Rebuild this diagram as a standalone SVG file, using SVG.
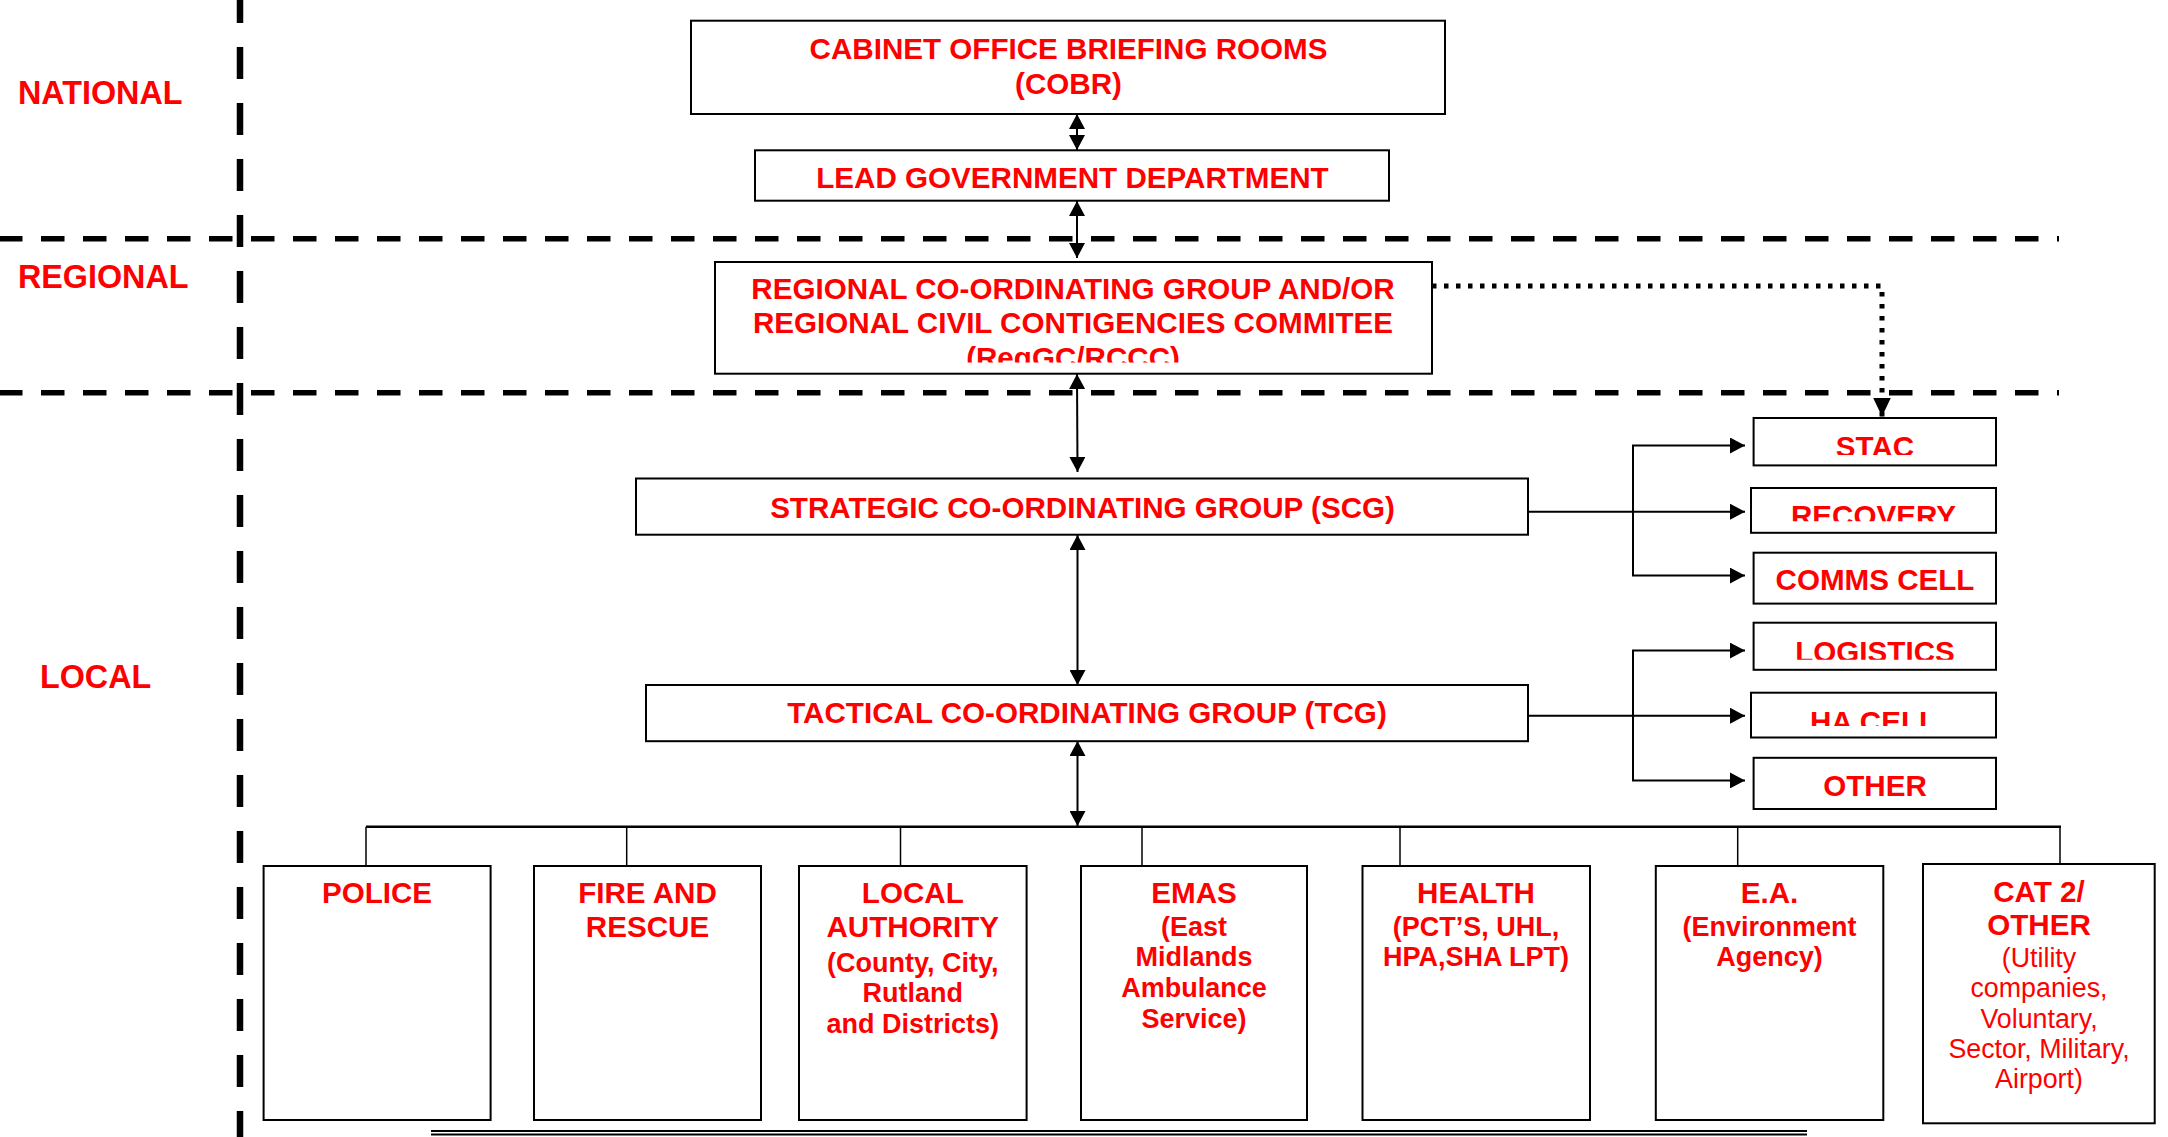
<svg xmlns="http://www.w3.org/2000/svg" width="2168" height="1137" viewBox="0 0 2168 1137">
<style>
text{font-family:"Liberation Sans",Arial,sans-serif;fill:#ff0000;}
.t29{font-size:29.6px;font-weight:bold;}
.t26{font-size:27px;font-weight:bold;}
.r26{font-size:26.8px;font-weight:normal;}
.lvl{font-size:32.3px;font-weight:bold;}
.box{fill:#fff;stroke:#000;stroke-width:2;}
.c{text-anchor:middle;}
.conn{stroke:#000;stroke-width:2;fill:none;}
.drop{stroke:#000;stroke-width:1.5;fill:none;}
.dashH{stroke:#000;stroke-width:5.5;stroke-dasharray:23.5 18.5;fill:none;}
.dashV{stroke:#000;stroke-width:6.5;stroke-dasharray:32 24;fill:none;}
</style>
<defs>
<marker id="arr" markerUnits="userSpaceOnUse" markerWidth="15" markerHeight="16" refX="15" refY="8" orient="auto-start-reverse"><path d="M0,0 L15,8 L0,16 z" fill="#000"/></marker>
<marker id="arrBig" markerUnits="userSpaceOnUse" markerWidth="19" markerHeight="18" refX="19" refY="9" orient="auto"><path d="M0,0 L19,9 L0,18 z" fill="#000"/></marker>
<clipPath id="clipReg"><rect x="715" y="262" width="717" height="100.5"/></clipPath>
<clipPath id="clipStac"><rect x="1753" y="418" width="243" height="37"/></clipPath>
<clipPath id="clipRec"><rect x="1751" y="488" width="245" height="33.3"/></clipPath>
<clipPath id="clipLog"><rect x="1753" y="622" width="243" height="37.8"/></clipPath>
<clipPath id="clipHa"><rect x="1751" y="692" width="245" height="34"/></clipPath>
</defs>
<rect width="2168" height="1137" fill="#fff"/>

<g id="levels">
<line class="dashV" x1="240" y1="-9" x2="240" y2="1137"/>
<line class="dashH" x1="-1" y1="238.7" x2="2059" y2="238.7"/>
<line class="dashH" x1="-1" y1="392.7" x2="2059" y2="392.7"/>
<text class="lvl" x="18" y="104">NATIONAL</text>
<text class="lvl" x="18" y="288">REGIONAL</text>
<text class="lvl" x="40" y="688">LOCAL</text>
<line x1="431" y1="1131" x2="1807" y2="1131" stroke="#000" stroke-width="1.8"/>
<line x1="431" y1="1134.5" x2="1807" y2="1134.5" stroke="#000" stroke-width="1.8"/>
</g>

<g id="connectors">
<line class="conn" x1="1077" y1="114" x2="1077" y2="150" marker-start="url(#arr)" marker-end="url(#arr)"/>
<line class="conn" x1="1077" y1="201" x2="1077" y2="258" marker-start="url(#arr)" marker-end="url(#arr)"/>
<line class="conn" x1="1077" y1="374" x2="1077.5" y2="472" marker-start="url(#arr)" marker-end="url(#arr)"/>
<line class="conn" x1="1077.5" y1="535" x2="1077.5" y2="685" marker-start="url(#arr)" marker-end="url(#arr)"/>
<line class="conn" x1="1077.5" y1="741" x2="1077.5" y2="826" marker-start="url(#arr)" marker-end="url(#arr)"/>
<path d="M1432,286 H1882 V416.5" fill="none" stroke="#000" stroke-width="5" stroke-dasharray="4.5 7.5" marker-end="url(#arrBig)"/>
<line x1="366" y1="826.7" x2="2061" y2="826.7" stroke="#000" stroke-width="2.5"/>
<line class="drop" x1="366" y1="826.7" x2="366" y2="866"/>
<line class="drop" x1="626.7" y1="826.7" x2="626.7" y2="866"/>
<line class="drop" x1="900.5" y1="826.7" x2="900.5" y2="866"/>
<line class="drop" x1="1142" y1="826.7" x2="1142" y2="866"/>
<line class="drop" x1="1400" y1="826.7" x2="1400" y2="866"/>
<line class="drop" x1="1737.7" y1="826.7" x2="1737.7" y2="866"/>
<line class="drop" x1="2060" y1="826.7" x2="2060" y2="864"/>
<line class="conn" x1="1529" y1="511.7" x2="1745" y2="511.7" marker-end="url(#arr)"/>
<path class="conn" d="M1745,445.5 H1633 V575.6 H1745" marker-start="url(#arr)" marker-end="url(#arr)"/>
<line class="conn" x1="1529" y1="715.7" x2="1745" y2="715.7" marker-end="url(#arr)"/>
<path class="conn" d="M1745,650.6 H1633 V780.4 H1745" marker-start="url(#arr)" marker-end="url(#arr)"/>
</g>

<g id="cobr">
<rect class="box" x="691" y="20.7" width="754" height="93.3"/>
<text class="t29 c" x="1068.5" y="59">CABINET OFFICE BRIEFING ROOMS</text>
<text class="t29 c" x="1068.5" y="94">(COBR)</text>
</g>
<g id="lgd">
<rect class="box" x="755" y="150.3" width="634" height="50.4"/>
<text class="t29 c" x="1072.5" y="188">LEAD GOVERNMENT DEPARTMENT</text>
</g>
<g id="regional">
<rect class="box" x="715" y="262" width="717" height="111.7"/>
<g clip-path="url(#clipReg)">
<text class="t29 c" x="1073" y="299">REGIONAL CO-ORDINATING GROUP AND/OR</text>
<text class="t29 c" x="1073" y="333.3">REGIONAL CIVIL CONTIGENCIES COMMITEE</text>
<text class="t29 c" x="1073" y="367.6">(RegGC/RCCC)</text>
</g>
</g>
<g id="scg">
<rect class="box" x="636" y="478.5" width="892" height="56.2"/>
<text class="t29 c" x="1082.5" y="517.7">STRATEGIC CO-ORDINATING GROUP (SCG)</text>
</g>
<g id="tcg">
<rect class="box" x="646" y="685" width="882" height="56.2"/>
<text class="t29 c" x="1087" y="723">TACTICAL CO-ORDINATING GROUP (TCG)</text>
</g>

<g id="stac">
<rect class="box" x="1753.6" y="418" width="242.4" height="47.4"/>
<g clip-path="url(#clipStac)"><text class="t29 c" x="1875" y="457">STAC</text></g>
</g>
<g id="recovery">
<rect class="box" x="1751" y="488" width="245" height="44.8"/>
<g clip-path="url(#clipRec)"><text class="t29 c" x="1873.5" y="526">RECOVERY</text></g>
</g>
<g id="comms">
<rect class="box" x="1753.6" y="552.7" width="242.4" height="50.9"/>
<text class="t29 c" x="1875" y="590">COMMS CELL</text>
</g>
<g id="logistics">
<rect class="box" x="1753.6" y="622.7" width="242.4" height="47.1"/>
<g clip-path="url(#clipLog)"><text class="t29 c" x="1875" y="661.5">LOGISTICS</text></g>
</g>
<g id="hacell">
<rect class="box" x="1751" y="692.7" width="245" height="44.8"/>
<g clip-path="url(#clipHa)"><text class="t29 c" x="1873.5" y="731.5">HA CELL</text></g>
</g>
<g id="other">
<rect class="box" x="1753.6" y="757.8" width="242.4" height="51.2"/>
<text class="t29 c" x="1875" y="796">OTHER</text>
</g>

<g id="police">
<rect class="box" x="263.6" y="866" width="227" height="254"/>
<text class="t29 c" x="377" y="903">POLICE</text>
</g>
<g id="fire">
<rect class="box" x="534" y="866" width="227" height="254"/>
<text class="t29 c" x="647.5" y="903">FIRE AND</text>
<text class="t29 c" x="647.5" y="936.7">RESCUE</text>
</g>
<g id="localauthority">
<rect class="box" x="799" y="866" width="227.6" height="254"/>
<text class="t29 c" x="912.8" y="903">LOCAL</text>
<text class="t29 c" x="912.8" y="936.7">AUTHORITY</text>
<text class="t26 c" x="912.8" y="971.7">(County, City,</text>
<text class="t26 c" x="912.8" y="1002">Rutland</text>
<text class="t26 c" x="912.8" y="1033">and Districts)</text>
</g>
<g id="emas">
<rect class="box" x="1081" y="866" width="226" height="254"/>
<text class="t29 c" x="1194" y="903">EMAS</text>
<text class="t26 c" x="1194" y="935.5">(East</text>
<text class="t26 c" x="1194" y="966">Midlands</text>
<text class="t26 c" x="1194" y="997">Ambulance</text>
<text class="t26 c" x="1194" y="1028">Service)</text>
</g>
<g id="health">
<rect class="box" x="1362.5" y="866" width="227.5" height="254"/>
<text class="t29 c" x="1476" y="903">HEALTH</text>
<text class="t26 c" x="1476" y="935.5">(PCT’S, UHL,</text>
<text class="t26 c" x="1476" y="965.5">HPA,SHA LPT)</text>
</g>
<g id="ea">
<rect class="box" x="1655.8" y="866" width="227.5" height="254"/>
<text class="t29 c" x="1769.5" y="903">E.A.</text>
<text class="t26 c" x="1769.5" y="935.5">(Environment</text>
<text class="t26 c" x="1769.5" y="965.5">Agency)</text>
</g>
<g id="cat2">
<rect class="box" x="1923" y="864" width="231.7" height="259.3"/>
<text class="t29 c" x="2039" y="902">CAT 2/</text>
<text class="t29 c" x="2039" y="935">OTHER</text>
<text class="r26 c" x="2039" y="966.7">(Utility</text>
<text class="r26 c" x="2039" y="997">companies,</text>
<text class="r26 c" x="2039" y="1028">Voluntary,</text>
<text class="r26 c" x="2039" y="1058">Sector, Military,</text>
<text class="r26 c" x="2039" y="1088">Airport)</text>
</g>
</svg>
